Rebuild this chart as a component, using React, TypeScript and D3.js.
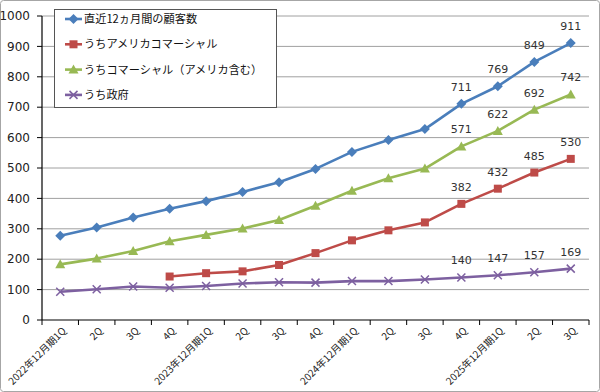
import * as d3 from 'd3'
import React from 'react'

const categories = [
  '2022年12月期1Q', '2Q', '3Q', '4Q',
  '2023年12月期1Q', '2Q', '3Q', '4Q',
  '2024年12月期1Q', '2Q', '3Q', '4Q',
  '2025年12月期1Q', '2Q', '3Q',
]
const totalCustomers = [277, 304, 337, 366, 391, 421, 453, 497, 553, 592, 628, 711, 769, 849, 911]
const usCommercial = [null, null, null, 143, 154, 160, 181, 220, 262, 295, 321, 382, 432, 485, 530]
const commercial = [183, 202, 227, 259, 280, 301, 329, 376, 425, 466, 498, 571, 622, 692, 742]
const government = [93, 101, 110, 106, 112, 120, 124, 123, 128, 128, 133, 140, 147, 157, 169]
const labelFrom = 11
const yTicks = [0, 100, 200, 300, 400, 500, 600, 700, 800, 900, 1000]

type V = number | null
interface Series { name: string, values: V[], color: string, marker: 'diamond' | 'square' | 'triangle' | 'cross' }

const series: Series[] = [
  { name: '直近12ヵ月間の顧客数', values: totalCustomers, color: '#4a7ebb', marker: 'diamond' },
  { name: 'うちアメリカコマーシャル', values: usCommercial, color: '#be4b48', marker: 'square' },
  { name: 'うちコマーシャル（アメリカ含む）', values: commercial, color: '#98b954', marker: 'triangle' },
  { name: 'うち政府', values: government, color: '#7d60a0', marker: 'cross' },
]

const NUM_FONT = '"DejaVu Sans", Verdana, sans-serif'
const JP_FONT = '"Noto Sans CJK JP", sans-serif'

const Marker = ({ kind, x, y, color }: { kind: Series['marker'], x: number, y: number, color: string }) => {
  if (kind === 'diamond') return <path d={`M${x},${y - 5}L${x + 5},${y}L${x},${y + 5}L${x - 5},${y}Z`} fill={color} />
  if (kind === 'square') return <rect x={x - 4} y={y - 4} width={8} height={8} fill={color} />
  if (kind === 'triangle') return <path d={`M${x},${y - 5}L${x + 5},${y + 4}L${x - 5},${y + 4}Z`} fill={color} />
  return <path d={`M${x - 4},${y - 4}L${x + 4},${y + 4}M${x - 4},${y + 4}L${x + 4},${y - 4}`} stroke={color} strokeWidth={1.5} />
}

export default function App() {
  const
    width = 600,
    height = 392,
    left = 42,
    right = 589,
    top = 16,
    bottom = 320,
    x = d3.scaleBand<string>().domain(categories.map((_, i) => String(i))).range([left, right]),
    y = d3.scaleLinear().domain([0, 1000]).range([bottom, top]),
    cx = (i: number) => x(String(i))! + x.bandwidth() / 2,
    line = d3.line<V>()
      .defined(d => d != null)
      .x((_, i) => cx(i))
      .y(d => y(d as number))

  return (
    <svg width={width} height={height} style={{ position: 'absolute', left: 0, top: 0, background: '#fff' }}>
      <rect x={0.5} y={0.5} width={width - 1} height={height - 1} rx={3} fill='#fff' stroke='#a6a6a6' />
      {yTicks.map(t => (
        <g key={t}>
          {t > 0 && <line x1={left} x2={right} y1={y(t)} y2={y(t)} stroke='#a0a0a0' strokeWidth={1} />}
          <line x1={left - 5} x2={left} y1={y(t)} y2={y(t)} stroke='#000' />
          <text x={30} y={y(t)} dy='0.35em' textAnchor='end' fontSize={12} fontFamily={NUM_FONT} fill='#222'>{t}</text>
        </g>
      ))}
      <line x1={left} x2={left} y1={top} y2={bottom} stroke='#000' strokeWidth={1.2} />
      <line x1={left} x2={right} y1={bottom} y2={bottom} stroke='#000' strokeWidth={1.2} />
      {d3.range(categories.length + 1).map(i => {
        const tx = left + i * x.step()
        return <line key={i} x1={tx} x2={tx} y1={bottom} y2={bottom + 5} stroke='#000' />
      })}
      {categories.map((c, i) => (
        <text key={i} transform={`translate(${cx(i) + 4},${bottom + 9}) rotate(-45)`} textAnchor='end' dy='0.35em'
          fontSize={10} fontFamily={JP_FONT} fill='#222'>{c}</text>
      ))}
      {series.map(s => (
        <g key={s.name}>
          <path d={line(s.values) ?? ''} fill='none' stroke={s.color} strokeWidth={2.6} strokeLinejoin='round' />
          {s.values.map((v, i) => v == null ? null : <Marker key={i} kind={s.marker} x={cx(i)} y={y(v)} color={s.color} />)}
          {s.values.map((v, i) => v == null || i < labelFrom ? null : (
            <text key={'l' + i} x={cx(i)} y={y(v) - 13} textAnchor='middle' fontSize={11} fontFamily={NUM_FONT} fill='#333'>{v}</text>
          ))}
        </g>
      ))}
      <g>
        <rect x={54.5} y={9.5} width={222} height={98} fill='#fff' stroke='#555' />
        {series.map((s, i) => {
          const ly = 19 + i * 25.3
          return (
            <g key={s.name}>
              <line x1={65} x2={82} y1={ly} y2={ly} stroke={s.color} strokeWidth={2.6} />
              <Marker kind={s.marker} x={73.5} y={ly} color={s.color} />
              <text x={84} y={ly} dy='0.35em' fontSize={11.2} fontFamily={JP_FONT} fill='#111'>{s.name}</text>
            </g>
          )
        })}
      </g>
    </svg>
  )
}
